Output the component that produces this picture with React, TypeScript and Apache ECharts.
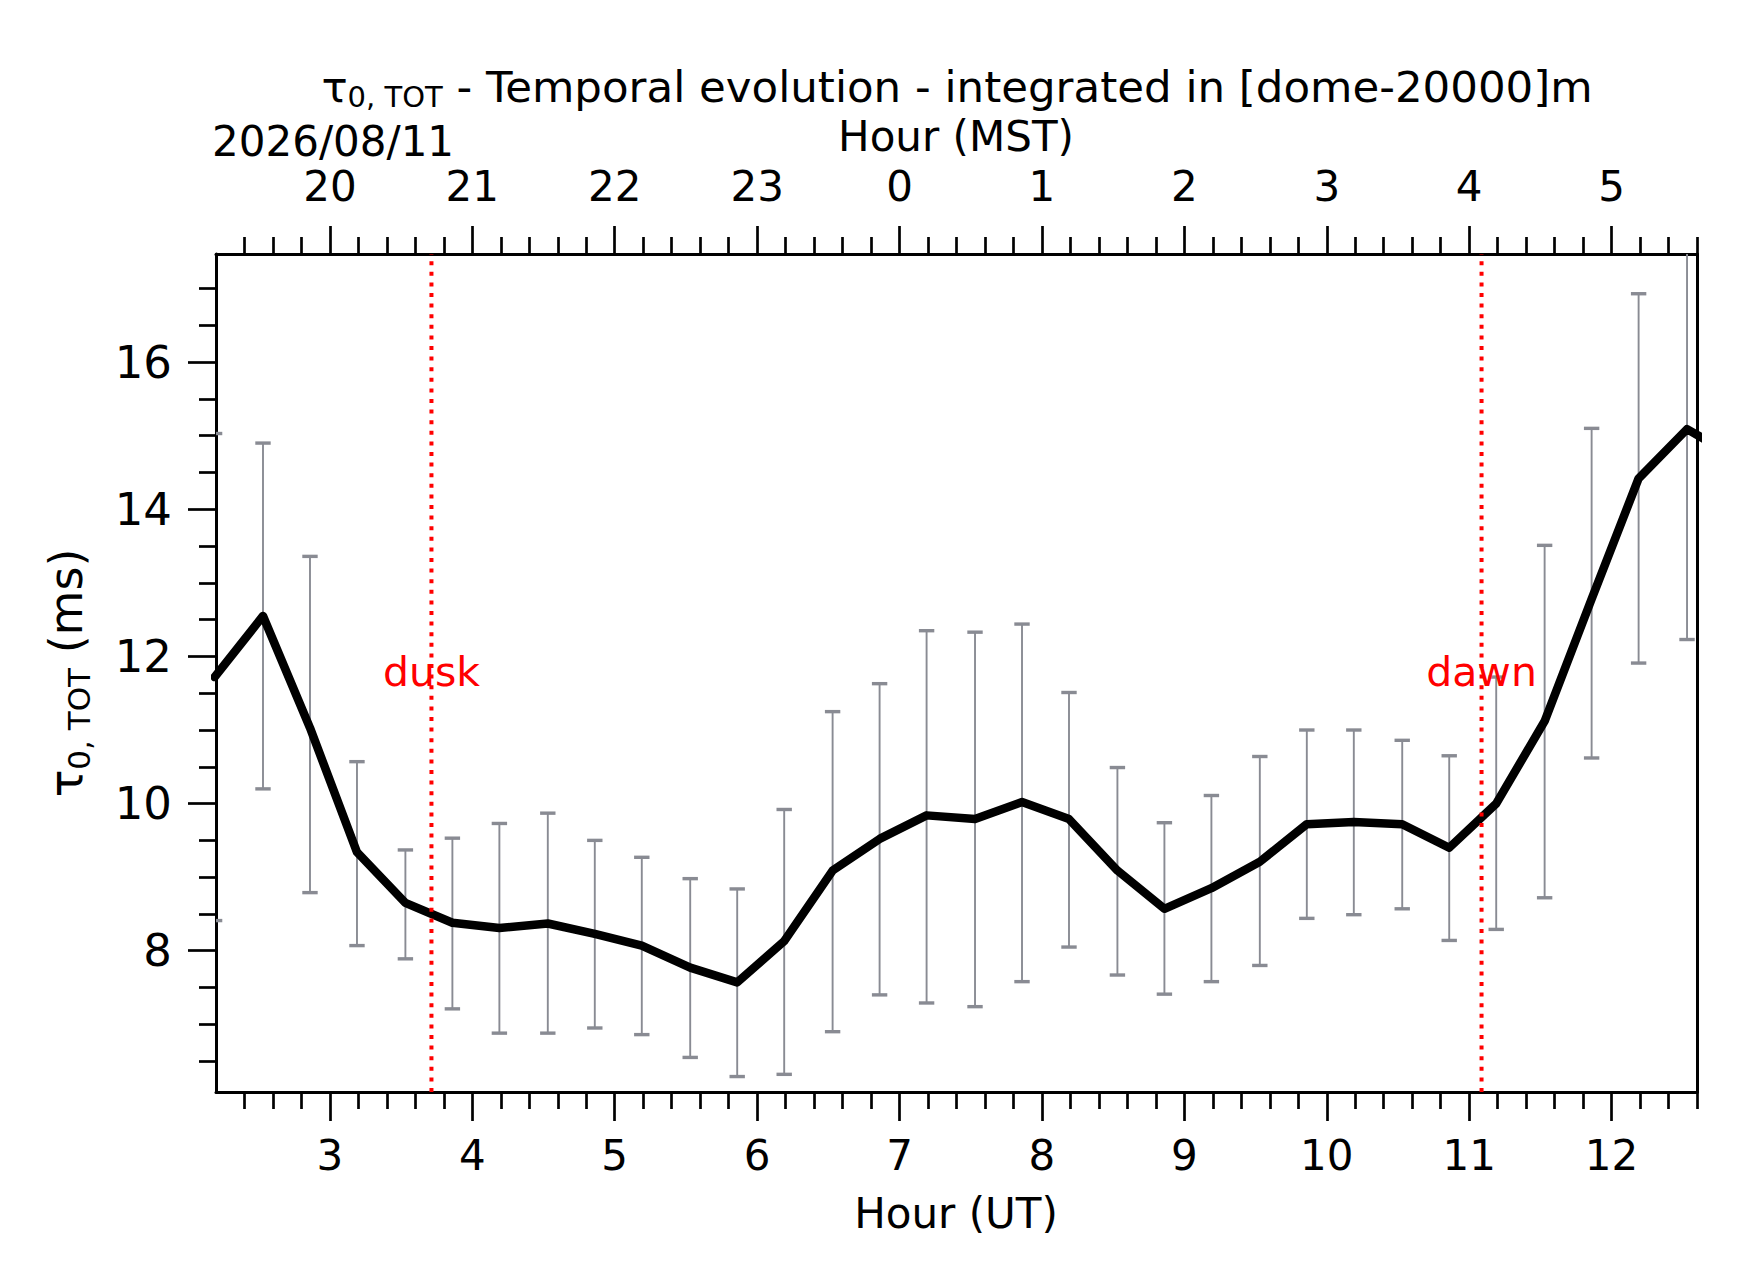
import React, { useEffect, useRef } from 'react';
import * as echarts from 'echarts';

// ---- data ----
const hoursUT = [2.19, 2.53, 2.86, 3.19, 3.53, 3.86, 4.19, 4.53, 4.86, 5.19, 5.53, 5.86, 6.19, 6.53, 6.86, 7.19, 7.53, 7.86, 8.19, 8.53, 8.86, 9.19, 9.53, 9.86, 10.19, 10.53, 10.86, 11.19, 11.53, 11.86, 12.19, 12.53, 12.86];
const tauMean = [11.72, 12.55, 11.03, 9.34, 8.65, 8.38, 8.31, 8.37, 8.23, 8.07, 7.77, 7.57, 8.13, 9.09, 9.52, 9.84, 9.79, 10.02, 9.79, 9.09, 8.57, 8.85, 9.21, 9.72, 9.75, 9.72, 9.40, 10.00, 11.12, 12.78, 14.42, 15.09, 14.72];
const tauUpper = [15.03, 14.90, 13.36, 10.57, 9.37, 9.53, 9.73, 9.87, 9.50, 9.27, 8.98, 8.84, 9.92, 11.25, 11.63, 12.35, 12.33, 12.44, 11.51, 10.49, 9.74, 10.11, 10.64, 11.00, 11.00, 10.86, 10.65, 11.72, 13.51, 15.10, 16.93, 17.90, 17.60];
const tauLower = [8.41, 10.20, 8.79, 8.07, 7.89, 7.21, 6.88, 6.88, 6.95, 6.86, 6.55, 6.29, 6.32, 6.90, 7.40, 7.29, 7.24, 7.58, 8.05, 7.67, 7.41, 7.58, 7.80, 8.44, 8.49, 8.57, 8.14, 8.29, 8.72, 10.62, 11.91, 12.23, 11.90];

const majorTicksUT = [3, 4, 5, 6, 7, 8, 9, 10, 11, 12];
const minorTicksUT = [2.4, 2.6, 2.8, 3.2, 3.4, 3.6, 3.8, 4.2, 4.4, 4.6, 4.8, 5.2, 5.4, 5.6, 5.8, 6.2, 6.4, 6.6, 6.8, 7.2, 7.4, 7.6, 7.8, 8.2, 8.4, 8.6, 8.8, 9.2, 9.4, 9.6, 9.8, 10.2, 10.4, 10.6, 10.8, 11.2, 11.4, 11.6, 11.8, 12.2, 12.4, 12.6];
const majorTicksTau = [8, 10, 12, 14, 16];
const minorTicksTau = [6.5, 7, 7.5, 8.5, 9, 9.5, 10.5, 11, 11.5, 12.5, 13, 13.5, 14.5, 15, 15.5, 16.5, 17];

const xRange = [2.2, 12.6];
const yRange = [6.08, 17.47];
const mstOffset = -7;
const duskUT = 3.713;
const dawnUT = 11.087;
const markerLabelTau = 11.79;
const dateLabel = '2026/08/11';

const FONT = 'DejaVu Sans';
const GRAY = '#898b93';

export default function App() {
  const ref = useRef<HTMLDivElement>(null);
  useEffect(() => {
    if (!ref.current) return;
    const chart = echarts.init(ref.current, undefined, { renderer: 'svg' });

    const baseX: any = {
      type: 'value',
      min: xRange[0],
      max: xRange[1],
      splitLine: { show: false },
    };
    const tickStyle = { color: '#000', width: 2.7 };
    const baseY: any = {
      type: 'value',
      min: yRange[0],
      max: yRange[1],
      splitLine: { show: false },
    };

    const option: any = {
      animation: false,
      backgroundColor: '#fff',
      grid: { left: 216, right: 45, top: 254, bottom: 190, containLabel: false },
      xAxis: [
        {
          ...baseX,
          position: 'bottom',
          axisLine: { show: true, onZero: false, lineStyle: { color: '#000', width: 3 } },
          axisTick: { show: true, length: 29, lineStyle: tickStyle, customValues: majorTicksUT },
          axisLabel: { show: true, customValues: majorTicksUT, margin: 42, fontSize: 42, color: '#000', fontFamily: FONT },
        },
        {
          ...baseX,
          position: 'bottom',
          axisLine: { show: false, onZero: false },
          axisTick: { show: true, length: 17, lineStyle: tickStyle, customValues: minorTicksUT },
          axisLabel: { show: false },
        },
        {
          ...baseX,
          position: 'top',
          axisLine: { show: true, onZero: false, lineStyle: { color: '#000', width: 3 } },
          axisTick: { show: true, length: 28, lineStyle: tickStyle, customValues: majorTicksUT },
          axisLabel: {
            show: true, customValues: majorTicksUT, margin: 47, fontSize: 42, color: '#000', fontFamily: FONT,
            formatter: (v: number) => String((((Math.round(v) + mstOffset) % 24) + 24) % 24),
          },
        },
        {
          ...baseX,
          position: 'top',
          axisLine: { show: false, onZero: false },
          axisTick: { show: true, length: 17, lineStyle: tickStyle, customValues: minorTicksUT },
          axisLabel: { show: false },
        },
      ],
      yAxis: [
        {
          ...baseY,
          position: 'left',
          axisLine: { show: true, onZero: false, lineStyle: { color: '#000', width: 3 } },
          axisTick: { show: true, length: 28, lineStyle: tickStyle, customValues: majorTicksTau },
          axisLabel: { show: true, customValues: majorTicksTau, margin: 44, fontSize: 45, color: '#000', fontFamily: FONT },
        },
        {
          ...baseY,
          position: 'left',
          axisLine: { show: false, onZero: false },
          axisTick: { show: true, length: 17, lineStyle: tickStyle, customValues: minorTicksTau },
          axisLabel: { show: false },
        },
        {
          ...baseY,
          position: 'right',
          axisLine: { show: true, onZero: false, lineStyle: { color: '#000', width: 3 } },
          axisTick: { show: false },
          axisLabel: { show: false },
        },
      ],
      series: [
        {
          type: 'custom',
          name: 'errors',
          xAxisIndex: 0,
          yAxisIndex: 0,
          clip: true,
          z: 2,
          data: hoursUT.map((h, i) => [h, tauLower[i], tauUpper[i]]),
          encode: { x: 0, y: [1, 2] },
          renderItem: (params: any, api: any) => {
            const x = api.value(0);
            const lo = api.coord([x, api.value(1)]);
            const hi = api.coord([x, api.value(2)]);
            const cap = 7.7;
            return {
              type: 'group',
              children: [
                { type: 'line', shape: { x1: lo[0], y1: lo[1], x2: hi[0], y2: hi[1] }, style: { stroke: GRAY, lineWidth: 1.9 } },
                { type: 'line', shape: { x1: hi[0] - cap, y1: hi[1], x2: hi[0] + cap, y2: hi[1] }, style: { stroke: GRAY, lineWidth: 3.4 } },
                { type: 'line', shape: { x1: lo[0] - cap, y1: lo[1], x2: lo[0] + cap, y2: lo[1] }, style: { stroke: GRAY, lineWidth: 3.4 } },
              ],
            };
          },
        },
        {
          type: 'line',
          name: 'tau',
          xAxisIndex: 0,
          yAxisIndex: 0,
          z: 3,
          clip: true,
          symbol: 'none',
          data: hoursUT.map((h, i) => [h, tauMean[i]]),
          lineStyle: { color: '#000', width: 8.5, join: 'round', cap: 'round' },
        },
        {
          type: 'line',
          name: 'dusk',
          xAxisIndex: 0,
          yAxisIndex: 0,
          z: 4,
          symbol: 'none',
          data: [[duskUT, yRange[0]], [duskUT, yRange[1]]],
          lineStyle: { color: '#ff0000', width: 4, type: [4, 6.6], cap: 'butt' },
        },
        {
          type: 'line',
          name: 'dawn',
          xAxisIndex: 0,
          yAxisIndex: 0,
          z: 4,
          symbol: 'none',
          data: [[dawnUT, yRange[0]], [dawnUT, yRange[1]]],
          lineStyle: { color: '#ff0000', width: 4, type: [4, 6.6], cap: 'butt' },
        },
        {
          type: 'scatter',
          name: 'markers',
          xAxisIndex: 0,
          yAxisIndex: 0,
          z: 5,
          symbolSize: 1,
          itemStyle: { color: '#ff0000', opacity: 0 },
          data: [
            { name: 'dusk', value: [duskUT, markerLabelTau] },
            { name: 'dawn', value: [dawnUT, markerLabelTau] },
          ],
          label: {
            show: true,
            position: 'inside',
            formatter: '{b}',
            color: '#ff0000',
            opacity: 1,
            textBorderWidth: 0,
            textBorderColor: 'transparent',
            textShadowBlur: 0,
            fontSize: 41,
            fontFamily: FONT,
          },
        },
      ],
      graphic: [
        {
          type: 'text',
          x: 957,
          y: 87,
          z: 10,
          style: {
            text: '{t|τ}{s|0, TOT}{t| - Temporal evolution - integrated in [dome-20000]m}',
            align: 'center', textAlign: 'center',
            verticalAlign: 'middle', textVerticalAlign: 'middle',
            fill: '#000',
            fontFamily: FONT,
            fontSize: 43.5,
            rich: {
              t: { fontSize: 43.5, fontFamily: FONT, fill: '#000', color: '#000' },
              s: { fontSize: 29, fontFamily: FONT, fill: '#000', color: '#000', padding: [20, 0, 0, 0] },
            },
          },
        },
        {
          type: 'text',
          x: 212,
          y: 141.6,
          z: 10,
          style: {
            text: dateLabel,
            align: 'left', textAlign: 'left',
            verticalAlign: 'middle', textVerticalAlign: 'middle',
            fill: '#000', fontFamily: FONT, fontSize: 42,
          },
        },
        {
          type: 'text',
          x: 956,
          y: 136,
          z: 10,
          style: {
            text: 'Hour (MST)',
            align: 'center', textAlign: 'center',
            verticalAlign: 'middle', textVerticalAlign: 'middle',
            fill: '#000', fontFamily: FONT, fontSize: 42,
          },
        },
        {
          type: 'text',
          x: 956,
          y: 1213,
          z: 10,
          style: {
            text: 'Hour (UT)',
            align: 'center', textAlign: 'center',
            verticalAlign: 'middle', textVerticalAlign: 'middle',
            fill: '#000', fontFamily: FONT, fontSize: 42,
          },
        },
        {
          type: 'text',
          x: 66,
          y: 673,
          rotation: Math.PI / 2,
          z: 10,
          style: {
            text: '{t|τ}{s|0, TOT}{t| (ms)}',
            align: 'center', textAlign: 'center',
            verticalAlign: 'middle', textVerticalAlign: 'middle',
            fill: '#000', fontFamily: FONT, fontSize: 46,
            rich: {
              t: { fontSize: 46, fontFamily: FONT, fill: '#000', color: '#000' },
              s: { fontSize: 31, fontFamily: FONT, fill: '#000', color: '#000', padding: [25, 0, 0, 0] },
            },
          },
        },
      ],
    };

    chart.setOption(option);
    return () => chart.dispose();
  }, []);

  return (
    <div
      ref={ref}
      style={{ position: 'fixed', left: 0, top: 0, width: 1742, height: 1282, background: '#fff' }}
    />
  );
}
